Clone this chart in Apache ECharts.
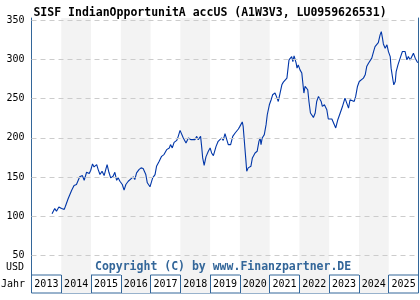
<!DOCTYPE html>
<html lang="de">
<head>
<meta charset="UTF-8">
<title>SISF IndianOpportunitA accUS</title>
<script src="https://cdn.jsdelivr.net/npm/echarts@6/dist/echarts.min.js"></script>
<style>
    html, body { margin: 0; padding: 0; background: #fff; }
    #chart { width: 420px; height: 300px; }
</style>
</head>
<body>
<div id="chart"></div>
<script>
var years = ['2013', '2014', '2015', '2016', '2017', '2018', '2019', '2020', '2021', '2022', '2023', '2024', '2025'];
var yTicks = [50, 100, 150, 200, 250, 300, 350];

// Datum als Dezimaljahr, Kurs in USD
var dates = [
    2013.69, 2013.78, 2013.84, 2013.92, 2014.01, 2014.10, 2014.14, 2014.23, 2014.29, 2014.35,
    2014.43, 2014.51, 2014.57, 2014.62, 2014.71, 2014.77, 2014.85, 2014.94, 2014.99, 2015.05,
    2015.10, 2015.19, 2015.24, 2015.30, 2015.37, 2015.44, 2015.50, 2015.54, 2015.60, 2015.66,
    2015.69, 2015.74, 2015.80, 2015.86, 2015.91, 2015.97, 2016.05, 2016.11, 2016.17, 2016.25,
    2016.34, 2016.42, 2016.47, 2016.53, 2016.61, 2016.68, 2016.75, 2016.84, 2016.89, 2016.98,
    2017.07, 2017.15, 2017.20, 2017.29, 2017.37, 2017.45, 2017.54, 2017.63, 2017.67, 2017.73,
    2017.79, 2017.88, 2017.93, 2017.99, 2018.03, 2018.10, 2018.19, 2018.27, 2018.35, 2018.41,
    2018.49, 2018.55, 2018.60, 2018.68, 2018.72, 2018.75, 2018.80, 2018.86, 2018.94, 2019.00,
    2019.05, 2019.11, 2019.20, 2019.27, 2019.33, 2019.39, 2019.44, 2019.50, 2019.56, 2019.61,
    2019.69, 2019.76, 2019.84, 2019.89, 2019.95, 2020.00, 2020.08, 2020.11, 2020.15, 2020.20,
    2020.23, 2020.28, 2020.34, 2020.37, 2020.42, 2020.51, 2020.58, 2020.64, 2020.68, 2020.71,
    2020.75, 2020.82, 2020.88, 2020.92, 2020.99, 2021.05, 2021.10, 2021.18, 2021.25, 2021.29,
    2021.35, 2021.41, 2021.46, 2021.52, 2021.58, 2021.65, 2021.69, 2021.74, 2021.78, 2021.82,
    2021.86, 2021.89, 2021.92, 2021.96, 2022.02, 2022.08, 2022.11, 2022.15, 2022.19, 2022.25,
    2022.28, 2022.32, 2022.37, 2022.41, 2022.47, 2022.53, 2022.58, 2022.64, 2022.69, 2022.73,
    2022.77, 2022.84, 2022.92, 2022.97, 2023.09, 2023.14, 2023.22, 2023.29, 2023.37, 2023.44,
    2023.53, 2023.59, 2023.65, 2023.70, 2023.76, 2023.84, 2023.89, 2023.95, 2024.01, 2024.07,
    2024.15, 2024.21, 2024.26, 2024.32, 2024.38, 2024.43, 2024.49, 2024.54, 2024.60, 2024.65,
    2024.71, 2024.75, 2024.79, 2024.82, 2024.88, 2024.94, 2024.99, 2025.05, 2025.08, 2025.14,
    2025.17, 2025.22, 2025.25, 2025.31, 2025.35, 2025.42, 2025.46, 2025.52, 2025.55, 2025.61,
    2025.66, 2025.72, 2025.78, 2025.83, 2025.89, 2025.95, 2025.98
];
var prices = [
    103.4, 110, 106.7, 112, 110, 109, 113, 122.5, 121.6, 133.4,
    139.3, 140.6, 142.8, 150.4, 152, 146, 156.2, 154.6, 158.8, 166.9,
    163, 166, 159.6, 153.3, 157.5, 152, 160.5, 166, 156.2, 149.1,
    147.8, 151.2, 156.2, 146, 149.1, 144.8, 140.6, 133.4, 140.6, 144.8,
    147.8, 150.4, 147, 155.5, 159.6, 161.8, 160.9, 153.3, 142.8, 137.7,
    149.1, 153.3, 163.8, 170.2, 176.5, 178.7, 185, 187.2, 191.4, 187.2,
    194.3, 196.8, 201.9, 209.5, 211.3, 199.9, 193.5, 199.9, 197.7, 195.6,
    197.7, 201.9, 197.7, 201.9, 187.2, 174.5, 165.1, 175.8, 182.9, 187.2,
    180.8, 177.4, 189.2, 195.6, 193.5, 199.9, 196.8, 205.3, 204.1, 191.4,
    191.4, 201.9, 206.2, 208.2, 211.3, 214.6, 220.2, 214.6, 195.6, 172.3,
    157.5, 161.8, 159.6, 163.8, 174.5, 180.8, 182.9, 195.6, 199.9, 191.4,
    199.9, 204.1, 216.8, 229.4, 242.1, 248.5, 254.8, 257, 250.6, 246.3,
    257, 267.5, 270.9, 269.7, 276, 299.2, 301.4, 303.4, 297.1, 304.3,
    299.2, 295, 288.7, 292.9, 286.5, 282.4, 280.2, 257, 265.4, 267.5,
    261.2, 246.3, 231.6, 229.4, 226, 231.6, 246.3, 252.7, 254.8, 246.3,
    240, 242.1, 235.8, 224, 224, 223.1, 212.6, 223.1, 231.6, 239.2,
    250.6, 248.5, 237.9, 248.5, 250.6, 246.3, 252.7, 265.4, 271.7, 273.9,
    276, 280.2, 290.7, 295, 292.9, 301.4, 309.8, 316.1, 318.3, 321.2,
    331, 335.2, 326.8, 319.5, 314.1, 318.3, 309.8, 303.4, 288.7, 273.9,
    267.5, 271.7, 284.4, 292.9, 295, 305.6, 309.8, 311.9, 309.8, 299.2,
    303.4, 299.2, 301.4, 307.7, 301.4, 297.1, 295.8
];

var seriesData = dates.map(function (d, i) {
    return [d, prices[i]];
});

var frameColor = '#336699';
var mono = 'DejaVu Sans Mono';
var bandColors = ['rgba(255,255,255,0)', '#f3f3f3'];

var chart = echarts.init(document.getElementById('chart'), null, { renderer: 'canvas' });

chart.setOption({
    animation: false,
    backgroundColor: '#ffffff',
    title: {
        text: 'SISF IndianOpportunitA accUS (A1W3V3, LU0959626531)',
        left: 'center',
        top: 2,
        textStyle: { fontFamily: mono, fontWeight: 'bold', fontSize: 11.5, color: '#000' }
    },
    grid: [
        { left: 31.5, right: 1.5, top: 18, bottom: 25 },
        { left: 31.5, right: 1.5, top: 275, height: 18, show: true,
          borderColor: frameColor, borderWidth: 1, backgroundColor: 'transparent' }
    ],
    xAxis: [
        {
            gridIndex: 0, type: 'value', min: 2013, max: 2026, interval: 1,
            axisLine: { show: false }, axisTick: { show: false }, axisLabel: { show: false },
            splitLine: { show: false },
            splitArea: { show: true, areaStyle: { color: bandColors } }
        },
        {
            gridIndex: 1, type: 'category', data: years, boundaryGap: true,
            axisLine: { show: false }, axisTick: { show: false, interval: 0 },
            axisLabel: { interval: 0, inside: true, margin: 9, verticalAlign: 'middle',
                         fontFamily: mono, fontSize: 10, color: '#000' },
            splitLine: { show: true, interval: 0, lineStyle: { color: frameColor, width: 1 } },
            splitArea: { show: true, interval: 0, areaStyle: { color: bandColors } }
        }
    ],
    yAxis: [
        {
            gridIndex: 0, type: 'value', min: 25.5, max: 352.5,
            axisLine: { show: true, lineStyle: { color: frameColor, width: 1 } },
            axisTick: { show: false, customValues: yTicks },
            axisLabel: { customValues: yTicks, margin: 7, fontFamily: mono, fontSize: 10, color: '#000' },
            splitLine: { show: false }
        },
        {
            gridIndex: 0, type: 'value', position: 'right', min: 25.5, max: 352.5,
            axisLine: { show: true, onZero: false, lineStyle: { color: frameColor, width: 1 } },
            axisTick: { show: false }, axisLabel: { show: false }, splitLine: { show: false }
        },
        { gridIndex: 1, type: 'value', show: false }
    ],
    graphic: [
        { type: 'text', left: 95, top: 261, z: 10,
          style: { text: 'Copyright (C) by www.Finanzpartner.DE', fill: frameColor,
                   font: 'bold 11.5px "DejaVu Sans Mono"' } },
        { type: 'text', right: 396, top: 262,
          style: { text: 'USD', fill: '#000', font: '10px "DejaVu Sans Mono"' } },
        { type: 'text', left: 1, top: 279,
          style: { text: 'Jahr', fill: '#000', font: '10px "DejaVu Sans Mono"' } }
    ],
    series: [
        {
            // gestrichelte Hilfslinien
            type: 'line',
            xAxisIndex: 0,
            yAxisIndex: 0,
            data: [],
            z: 1,
            silent: true,
            markLine: {
                silent: true,
                symbol: 'none',
                label: { show: false },
                lineStyle: { color: '#cccccc', type: [5, 4], width: 1 },
                data: yTicks.map(function (v) { return { yAxis: v }; })
            }
        },
        {
            type: 'line',
            xAxisIndex: 0,
            yAxisIndex: 0,
            data: seriesData,
            z: 3,
            showSymbol: false,
            lineStyle: { color: '#0036a8', width: 1.1 }
        }
    ]
});
</script>
</body>
</html>
